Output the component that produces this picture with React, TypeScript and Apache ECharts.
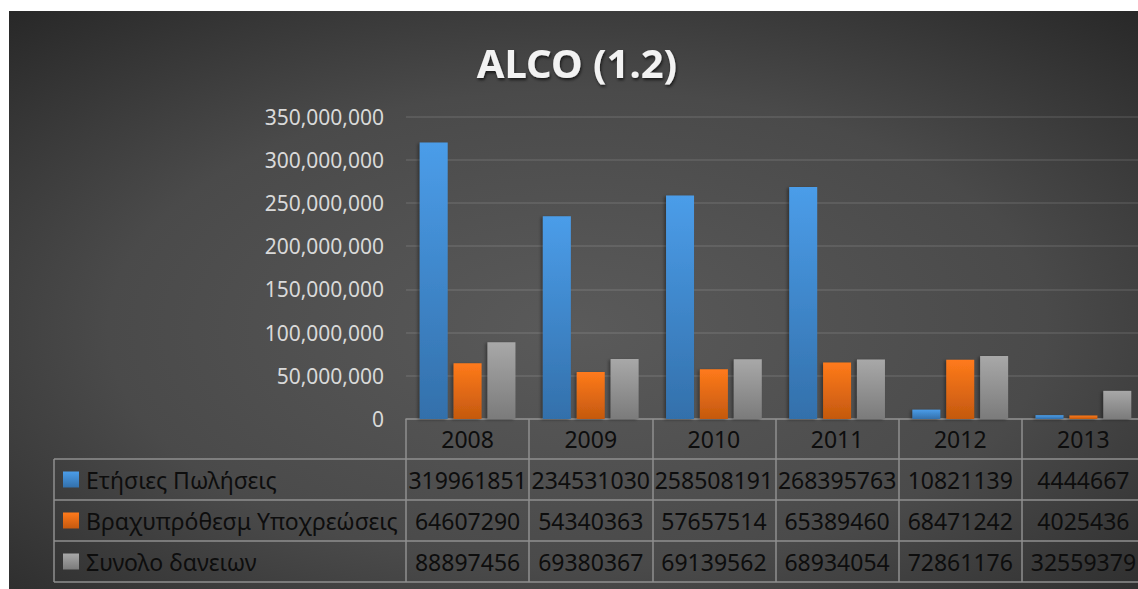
import React, { useEffect, useRef } from "react";
import * as echarts from "echarts";

// ---- data ----
const TITLE = "ALCO (1.2)";
const years = ["2008", "2009", "2010", "2011", "2012", "2013"];
const seriesNames = ["Ετήσιες Πωλήσεις", "Βραχυπρόθεσμ Υποχρεώσεις", "Συνολο δανειων"];
const annualSales = [319961851, 234531030, 258508191, 268395763, 10821139, 4444667];
const shortTermLiabilities = [64607290, 54340363, 57657514, 65389460, 68471242, 4025436];
const totalLoans = [88897456, 69380367, 69139562, 68934054, 72861176, 32559379];
const Y_MAX = 350000000;
const Y_STEP = 50000000;

// ---- layout ----
const W = 1136;
const H = 578;
const GRID_LEFT = 397;
const GRID_RIGHT = 0;
const GRID_TOP = 105.5;
const GRID_BOTTOM = 170;
const PLOT_W = W - GRID_LEFT - GRID_RIGHT;
const CELL_W = PLOT_W / years.length;
const AXIS_Y = H - GRID_BOTTOM;
const HEADER_H = 40;
const ROW_H = 41;
const TABLE_LEFT = 45;
const FONT = "'Noto Sans', 'DejaVu Sans', sans-serif";
const TABLE_TEXT = "#0d0d0d";
const BORDER = "#8f8f8f";

const palettes = [
  ["#4b9de9", "#3370ab"],
  ["#ff7a1b", "#c4590f"],
  ["#a8a8a8", "#7b7b7b"],
];

const grad = (top: string, bottom: string) => ({
  type: "linear",
  x: 0,
  y: 0,
  x2: 0,
  y2: 1,
  colorStops: [
    { offset: 0, color: top },
    { offset: 1, color: bottom },
  ],
});

const fmt = (v: number) => v.toLocaleString("en-US");

function buildTable(rows: number[][]) {
  const els: any[] = [];
  const firstRowTop = AXIS_Y + HEADER_H;
  const tableBottom = firstRowTop + ROW_H * rows.length;
  // horizontal rules
  for (let r = 0; r <= rows.length; r++) {
    const y = firstRowTop + r * ROW_H;
    els.push({
      type: "line",
      shape: { x1: TABLE_LEFT, y1: y, x2: W + 20, y2: y },
      style: { stroke: BORDER, lineWidth: 1.5 },
      silent: true,
    });
  }
  // left border of the legend column
  els.push({
    type: "line",
    shape: { x1: TABLE_LEFT, y1: firstRowTop, x2: TABLE_LEFT, y2: tableBottom },
    style: { stroke: BORDER, lineWidth: 1.5 },
    silent: true,
  });
  rows.forEach((vals, r) => {
    const cy = firstRowTop + r * ROW_H + ROW_H / 2;
    els.push({
      type: "rect",
      shape: { x: TABLE_LEFT + 9, y: cy - 8, width: 16, height: 16 },
      style: { fill: grad(palettes[r][0], palettes[r][1]) },
      silent: true,
    });
    els.push({
      type: "text",
      x: TABLE_LEFT + 32,
      y: cy,
      style: {
        text: seriesNames[r],
        fill: TABLE_TEXT,
        font: `23px ${FONT}`,
        verticalAlign: "middle",
        align: "left",
      },
      silent: true,
    });
    vals.forEach((v, i) => {
      els.push({
        type: "text",
        x: GRID_LEFT + (i + 0.5) * CELL_W,
        y: cy,
        style: {
          text: String(v),
          fill: TABLE_TEXT,
          font: `23px ${FONT}`,
          verticalAlign: "middle",
          align: "center",
        },
        silent: true,
      });
    });
  });
  return els;
}

export default function App() {
  const ref = useRef<HTMLDivElement>(null);

  useEffect(() => {
    document.body.style.margin = "0";
    document.documentElement.style.overflow = "hidden";
    document.body.style.overflow = "hidden";
    if (!ref.current) return;
    const chart = echarts.init(ref.current, undefined, { renderer: "svg" });
    const seriesData = [annualSales, shortTermLiabilities, totalLoans];

    chart.setOption({
      animation: false,
      backgroundColor: {
        type: "radial",
        x: 0.5,
        y: 0.55,
        r: 0.75,
        colorStops: [
          { offset: 0, color: "#5a5a5a" },
          { offset: 0.55, color: "#4a4a4a" },
          { offset: 1, color: "#272727" },
        ],
      },
      title: {
        text: TITLE,
        left: "center",
        top: 26,
        textStyle: {
          color: "#f2f2f2",
          fontFamily: FONT,
          fontWeight: "bold",
          fontSize: 40,
          textShadowColor: "rgba(0,0,0,0.65)",
          textShadowBlur: 3,
          textShadowOffsetX: 1,
          textShadowOffsetY: 2,
        },
      },
      grid: {
        left: GRID_LEFT,
        right: GRID_RIGHT,
        top: GRID_TOP,
        bottom: GRID_BOTTOM,
        containLabel: false,
      },
      xAxis: {
        type: "category",
        data: years,
        boundaryGap: true,
        axisLine: { lineStyle: { color: BORDER, width: 1.5 } },
        axisTick: {
          show: true,
          length: HEADER_H + ROW_H * seriesData.length,
          lineStyle: { color: BORDER, width: 1.5 },
        },
        axisLabel: {
          color: TABLE_TEXT,
          fontFamily: FONT,
          fontSize: 23,
          margin: 8,
          interval: 0,
        },
      },
      yAxis: {
        type: "value",
        min: 0,
        max: Y_MAX,
        interval: Y_STEP,
        axisLine: { show: false },
        axisTick: { show: false },
        axisLabel: {
          color: "#d9d9d9",
          fontFamily: FONT,
          fontSize: 21,
          margin: 22,
          formatter: (v: number) => fmt(v),
        },
        splitLine: {
          lineStyle: { color: "rgba(255,255,255,0.09)", width: 2 },
        },
      },
      series: seriesData.map((d, i) => ({
        type: "bar",
        name: seriesNames[i],
        data: d,
        barWidth: 28,
        barGap: "21%",
        itemStyle: {
          color: grad(palettes[i][0], palettes[i][1]),
          shadowColor: "rgba(0,0,0,0.35)",
          shadowBlur: 3,
          shadowOffsetX: -2,
          shadowOffsetY: 1,
        },
      })),
      graphic: buildTable(seriesData),
    });

    return () => chart.dispose();
  }, []);

  return (
    <div
      ref={ref}
      style={{ position: "absolute", left: 9, top: 11, width: W, height: H }}
    />
  );
}
